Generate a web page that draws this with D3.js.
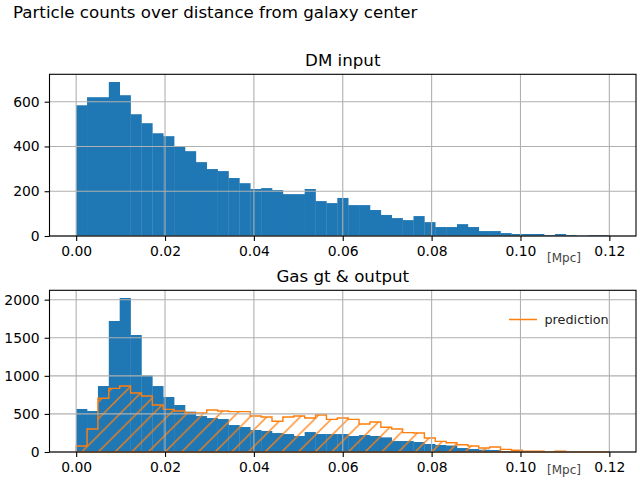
<!DOCTYPE html>
<html>
<head>
<meta charset="utf-8">
<script src="https://cdn.jsdelivr.net/npm/d3@7"></script>
<style>
  html, body { margin: 0; padding: 0; background: #fff; }
  svg { display: block; }
  text { font-family: "DejaVu Sans", sans-serif; }
</style>
</head>
<body>
<div id="chart"></div>
<script>
// histogram bins: 49 equal bins between 0 and 0.12 Mpc
const maxDist = 0.12;
const dmCounts = [584,620,620,688,629,544,504,459,446,398,379,330,299,290,259,236,210,214,205,187,187,210,156,147,170,
  138,138,116,94,80,71,89,62,40,40,53,40,22,22,13,9,9,9,4,9,4,1,4,4];
const gasCounts = [565,538,866,1720,2022,1536,1006,866,722,617,530,472,446,433,354,328,289,276,249,236,210,262,236,236,236,210,
  223,210,192,144,144,131,105,92,85,52,39,30,26,13,4,4,2,0,2,0,0,0,0];
const predCounts = [79,302,705,836,866,775,735,617,560,538,512,512,551,538,530,530,473,460,403,460,473,446,486,429,446,429,
  368,394,324,302,254,249,184,140,122,96,79,52,66,35,22,9,9,2,9,0,0,0,0];
const xTicks = [0, 0.02, 0.04, 0.06, 0.08, 0.10, 0.12];
const dmTicks = [0, 200, 400, 600];
const gasTicks = [0, 500, 1000, 1500, 2000];

const binW = maxDist / dmCounts.length;
const blue = '#1f77b4', orange = '#ff7f0e', gridCol = '#b0b0b0';
const left = 49.5, right = 636;

const svg = d3.select('#chart').append('svg')
  .attr('width', 640).attr('height', 480)
  .style('background', '#fff');

// hatch for the prediction outline
const defs = svg.append('defs');
const hatch = defs.append('pattern')
  .attr('id', 'hatch')
  .attr('patternUnits', 'userSpaceOnUse')
  .attr('width', 16.67).attr('height', 16.67)
  .attr('patternTransform', 'translate(81.7 452)');
hatch.append('path')
  .attr('d', 'M-2,2 L2,-2 M0,16.67 L16.67,0 M14.67,18.67 L18.67,14.67')
  .attr('stroke', orange).attr('stroke-width', 1.3);

const x = d3.scaleLinear().domain([-0.006, 0.126]).range([left, right]);

function panel(top, bottom, counts, ticks, title, unitY) {
  const y = d3.scaleLinear().domain([0, d3.max(counts) * 1.05]).range([bottom, top]);
  const g = svg.append('g');

  g.selectAll('rect.bar')
    .data(counts)
    .enter()
    .append('rect')
    .attr('class', 'bar')
    .attr('x', (d, i) => x(i * binW))
    .attr('width', x(binW) - x(0) + 0.3)
    .attr('y', d => y(d))
    .attr('height', d => bottom - y(d))
    .attr('fill', blue);

  const layer = { g, y };

  layer.finish = function () {
    // grid sits above the bars
    const grid = g.append('g');
    grid.selectAll('line.vg').data(xTicks).enter().append('line')
      .attr('x1', d => x(d)).attr('x2', d => x(d))
      .attr('y1', top).attr('y2', bottom)
      .attr('stroke', gridCol).attr('stroke-width', 1.1);
    grid.selectAll('line.hg').data(ticks).enter().append('line')
      .attr('x1', left).attr('x2', right)
      .attr('y1', d => y(d)).attr('y2', d => y(d))
      .attr('stroke', gridCol).attr('stroke-width', 1.1);

    const xAxis = d3.axisBottom(x).tickValues(xTicks).tickFormat(d3.format('.2f'))
      .tickSize(4.9).tickSizeOuter(0).tickPadding(4.9);
    const yAxis = d3.axisLeft(y).tickValues(ticks).tickFormat(d3.format('d'))
      .tickSize(4.9).tickSizeOuter(0).tickPadding(4.9);

    const ax = g.append('g').attr('transform', `translate(0,${bottom})`).call(xAxis);
    const ay = g.append('g').attr('transform', `translate(${left},0)`).call(yAxis);
    [ax, ay].forEach(a => {
      a.select('.domain').remove();
      a.selectAll('line').attr('stroke', '#000').attr('stroke-width', 1.1);
      a.selectAll('text').attr('fill', '#000').style('font-size', '13.9px')
        .style('font-family', '"DejaVu Sans", sans-serif');
    });

    g.append('rect')
      .attr('x', left).attr('y', top)
      .attr('width', right - left).attr('height', bottom - top)
      .attr('fill', 'none').attr('stroke', '#000').attr('stroke-width', 1.1);

    g.append('text')
      .attr('x', (left + right) / 2).attr('y', top - 8.3)
      .attr('text-anchor', 'middle')
      .style('font-size', '16.67px')
      .text(title);

    g.append('text')
      .attr('x', 547).attr('y', unitY)
      .attr('fill', '#444')
      .style('font-size', '12px')
      .text('[Mpc]');
  };
  return layer;
}

svg.append('text')
  .attr('x', 13).attr('y', 18)
  .style('font-size', '16.67px')
  .text('Particle counts over distance from galaxy center');

const dm = panel(74.3, 236, dmCounts, dmTicks, 'DM input', 262);
dm.finish();

const gas = panel(290.3, 452, gasCounts, gasTicks, 'Gas gt & output', 474);

// prediction: step outline with hatching
const stepPts = [[0, 0]];
predCounts.forEach((d, i) => {
  stepPts.push([i * binW, d]);
  stepPts.push([(i + 1) * binW, d]);
});
stepPts.push([maxDist, 0]);

const stepLine = d3.line().x(d => x(d[0])).y(d => gas.y(d[1]));

gas.g.append('path')
  .attr('d', stepLine(stepPts) + 'Z')
  .attr('fill', 'url(#hatch)')
  .attr('stroke', orange)
  .attr('stroke-width', 1.4)
  .attr('stroke-linejoin', 'miter');

gas.finish();

// legend
gas.g.append('line')
  .attr('x1', 509).attr('x2', 537)
  .attr('y1', 319.5).attr('y2', 319.5)
  .attr('stroke', orange).attr('stroke-width', 1.5);
gas.g.append('text')
  .attr('x', 544.5).attr('y', 324)
  .attr('fill', '#222')
  .style('font-size', '12.8px')
  .text('prediction');
</script>
</body>
</html>
